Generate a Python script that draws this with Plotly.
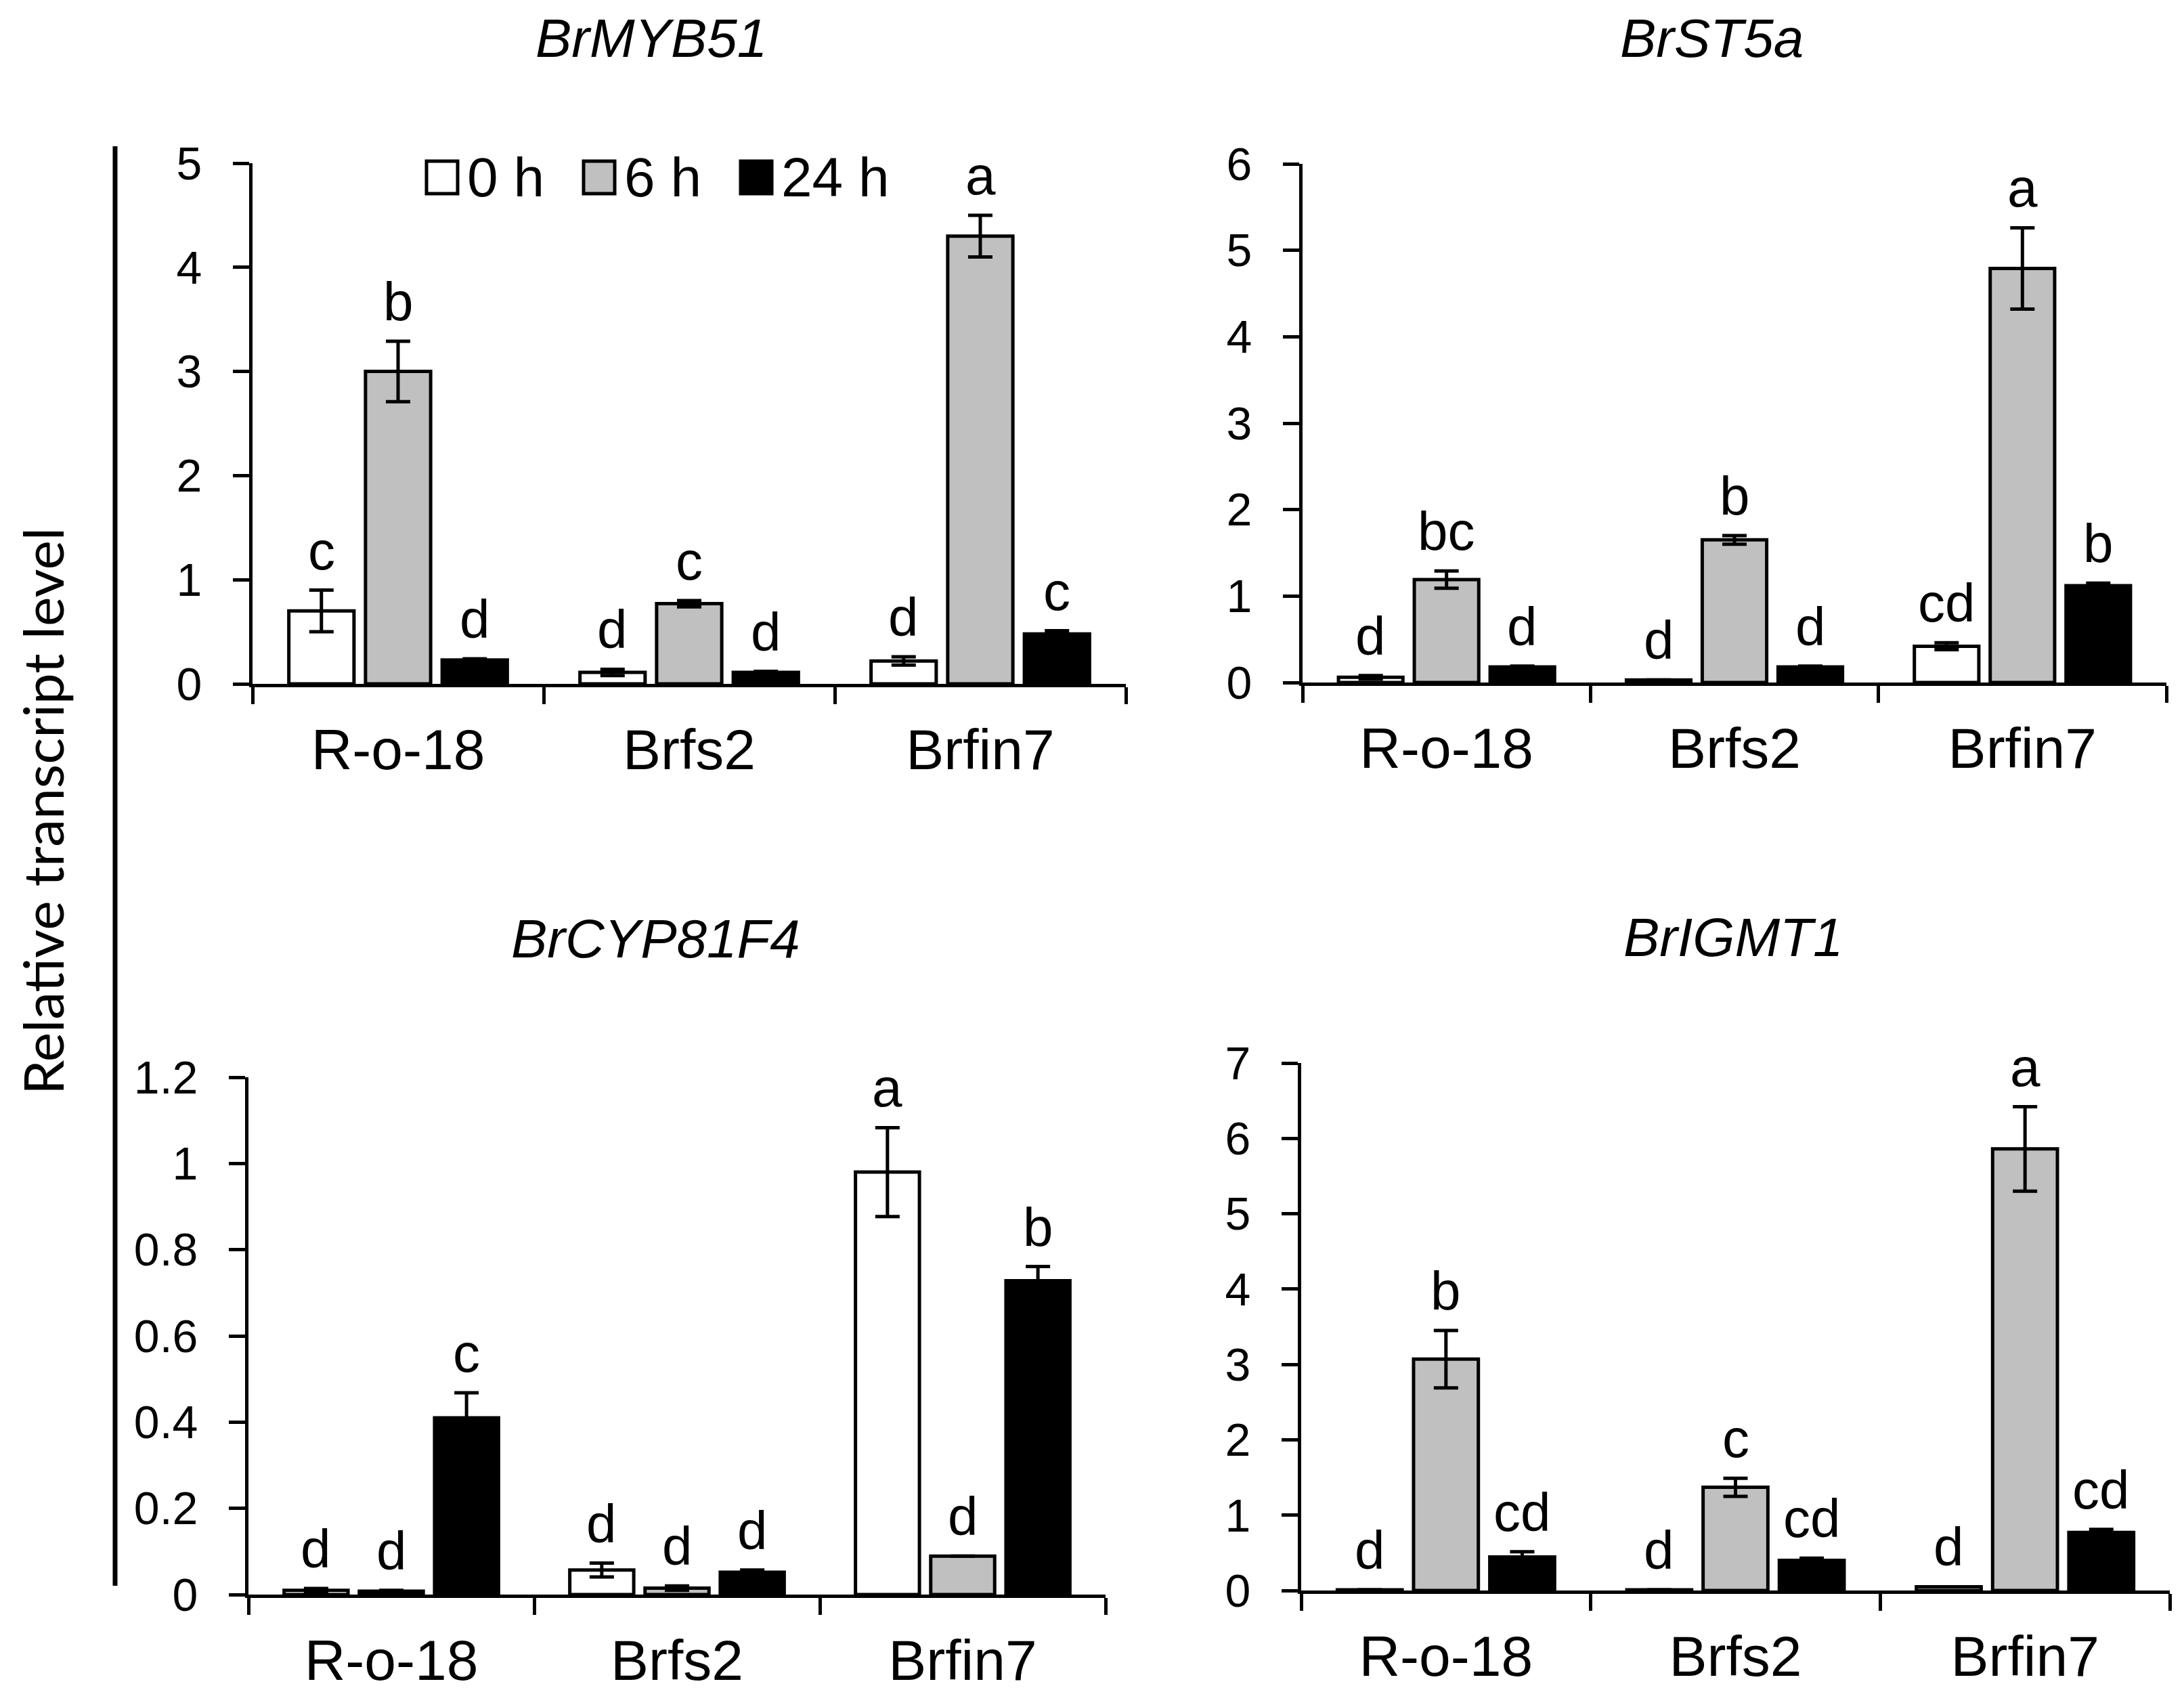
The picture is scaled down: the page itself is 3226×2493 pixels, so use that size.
import plotly.graph_objects as go

# genotypes and sampling times
lines = ["R-o-18", "Brfs2", "Brfin7"]
times = ["0 h", "6 h", "24 h"]
fills = ["white", "#c0c0c0", "black"]

# BrMYB51
myb51_mean = [[0.70, 0.11, 0.22], [3.00, 0.77, 4.30], [0.23, 0.11, 0.48]]
myb51_err = [[0.20, 0.03, 0.04], [0.29, 0.03, 0.20], [0.01, 0.01, 0.03]]
myb51_sig = [["c", "d", "d"], ["b", "c", "a"], ["d", "d", "c"]]

# BrST5a
st5a_mean = [[0.06, 0.03, 0.42], [1.19, 1.65, 4.79], [0.18, 0.18, 1.12]]
st5a_err = [[0.02, 0.0, 0.04], [0.10, 0.05, 0.47], [0.01, 0.01, 0.03]]
st5a_sig = [["d", "d", "cd"], ["bc", "b", "a"], ["d", "d", "b"]]

# BrCYP81F4
cyp_mean = [[0.010, 0.057, 0.98], [0.008, 0.015, 0.089], [0.41, 0.052, 0.728]]
cyp_err = [[0.004, 0.016, 0.103], [0.002, 0.005, 0.0], [0.058, 0.005, 0.033]]
cyp_sig = [["d", "d", "a"], ["d", "d", "d"], ["c", "d", "b"]]

# BrIGMT1
igmt_mean = [[0.01, 0.01, 0.05], [3.07, 1.37, 5.86], [0.445, 0.40, 0.77]]
igmt_err = [[0.0, 0.0, 0.0], [0.38, 0.12, 0.56], [0.07, 0.03, 0.04]]
igmt_sig = [["d", "d", "d"], ["b", "c", "a"], ["cd", "cd", "cd"]]

panels = [
    ("BrMYB51", myb51_mean, myb51_err, myb51_sig, 5, 1),
    ("BrST5a", st5a_mean, st5a_err, st5a_sig, 6, 1),
    ("BrCYP81F4", cyp_mean, cyp_err, cyp_sig, 1.2, 0.2),
    ("BrIGMT1", igmt_mean, igmt_err, igmt_sig, 7, 1),
]

W, H = 3226, 2493
OFF = 8  # page body margin


def fx(px):
    return (px - OFF) / W


def fy(py):
    return 1 - (py - OFF) / H


# panel boxes in pixels: left, right, top, bottom
boxes = [(373, 1663, 241, 1010), (1924, 3200, 242, 1008),
         (367, 1633, 1591, 2355), (1922, 3205, 1570, 2349)]
title_pos = [(962, 56), (2528, 56), (968, 1386), (2560, 1384)]

bargap = 0.21
FONT = "Liberation Sans, Arial, sans-serif"

fig = go.Figure()
annotations = []
for p, (name, mean, err, sig, ymax, dt) in enumerate(panels):
    sfx = "" if p == 0 else str(p + 1)
    for j, t in enumerate(times):
        fig.add_trace(go.Bar(
            x=lines, y=mean[j], name=t, showlegend=False,
            marker=dict(color=fills[j], line=dict(color="black", width=5)),
            error_y=dict(type="data", array=err[j], visible=True,
                         color="black", thickness=5, width=18),
            xaxis="x" + sfx, yaxis="y" + sfx))
        for i in range(len(lines)):
            annotations.append(dict(
                x=i + (j - 1) * (1 - bargap) / 3, y=mean[j][i] + err[j][i],
                xref="x" + sfx, yref="y" + sfx, text=sig[j][i], showarrow=False,
                xanchor="center", yanchor="bottom", yshift=12,
                font=dict(size=80, family=FONT, color="black")))
    l, r, t_, b = boxes[p]
    fig.update_layout(**{
        "xaxis" + sfx: dict(domain=[fx(l), fx(r)], anchor="y" + sfx, type="category",
                            showline=True, linecolor="black", linewidth=5,
                            ticks="outside", tickson="boundaries", ticklen=25,
                            tickwidth=5, tickcolor="black", showgrid=False,
                            ticklabelstandoff=20, automargin=False,
                            tickfont=dict(size=84, family=FONT, color="black")),
        "yaxis" + sfx: dict(domain=[fy(b), fy(t_)], anchor="x" + sfx,
                            range=[0, ymax], dtick=dt, showline=True,
                            linecolor="black", linewidth=5, ticks="outside",
                            ticklen=24, tickwidth=5, tickcolor="black",
                            showgrid=False, zeroline=False, ticklabelstandoff=32,
                            automargin=False,
                            tickfont=dict(size=68, family=FONT, color="black")),
    })
    tx, ty = title_pos[p]
    annotations.append(dict(x=fx(tx), y=fy(ty), xref="paper", yref="paper",
                            xanchor="center", yanchor="middle",
                            text="<i>" + name + "</i>", showarrow=False,
                            font=dict(size=80, family=FONT, color="black")))

# legend drawn by hand (plotly bar legend icons are tiny)
shapes = []
for j, t in enumerate(times):
    x0 = 630 + 232 * j
    shapes.append(dict(type="rect", xref="paper", yref="paper",
                       x0=fx(x0), x1=fx(x0 + 46), y0=fy(286), y1=fy(238),
                       fillcolor=fills[j], line=dict(color="black", width=5)))
    annotations.append(dict(x=fx(x0 + 58), y=fy(262), xref="paper", yref="paper",
                            xanchor="left", yanchor="middle", text=t, showarrow=False,
                            font=dict(size=82, family=FONT, color="black")))

# shared y label and bracket line
shapes.append(dict(type="line", xref="paper", yref="paper", x0=fx(170), x1=fx(170),
                   y0=fy(2342), y1=fy(216), line=dict(color="black", width=7)))
annotations.append(dict(x=fx(62), y=fy(1198), xref="paper", yref="paper",
                        xanchor="center", yanchor="middle",
                        text="Relative transcript level", textangle=-90, showarrow=False,
                        font=dict(size=82, family="Lato, sans-serif", color="black")))

fig.update_layout(width=W, height=H, margin=dict(l=0, r=0, t=0, b=0),
                  barmode="group", bargap=bargap, bargroupgap=0.15,
                  plot_bgcolor="white", paper_bgcolor="white",
                  annotations=annotations, shapes=shapes)

fig.write_html("out.html")
